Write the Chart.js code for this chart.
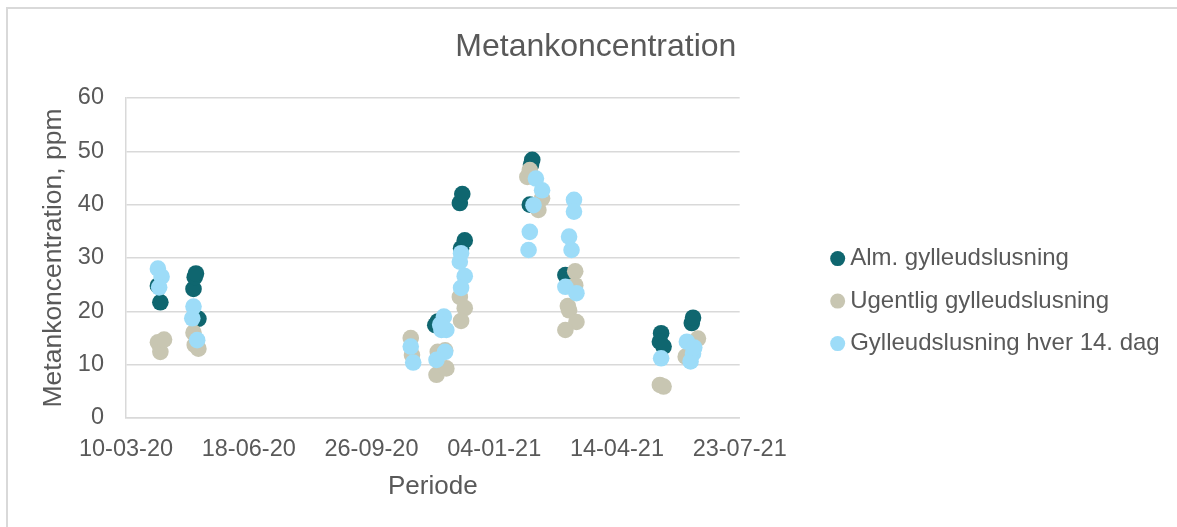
<!DOCTYPE html>
<html>
<head>
<meta charset="utf-8">
<script src="https://cdn.jsdelivr.net/npm/chart.js@4.4.1/dist/chart.umd.min.js"></script>
<style>
  html, body { margin: 0; padding: 0; background: #ffffff; overflow: hidden; }
  #wrap { position: relative; width: 1177px; height: 527px; }
  #frame { position: absolute; left: 6px; top: 7px; width: 1300px; height: 700px;
           border-left: 2px solid #d9d9d9; border-top: 2px solid #d9d9d9; pointer-events: none; box-sizing: border-box; }
  canvas { position: absolute; left: 0; top: 0; }
</style>
</head>
<body>
<div id="wrap">
  <canvas id="c" width="1177" height="527" style="width:1177px;height:527px"></canvas>
  <div id="frame"></div>
</div>
<script>
// ---- Data ----
const seriesNames = ["Alm. gylleudslusning", "Ugentlig gylleudslusning", "Gylleudslusning hver 14. dag"];

const almDates = ["2020-04-05","2020-04-07","2020-05-04","2020-05-05","2020-05-06","2020-05-08",
  "2020-11-17","2020-11-19","2020-12-07","2020-12-09","2020-12-08","2020-12-11",
  "2021-02-03","2021-02-04","2021-02-02","2021-03-03",
  "2021-05-20","2021-05-19","2021-05-22","2021-06-14","2021-06-15"];
const almValues = [24.8,21.7,24.2,26.4,27.1,18.6,
  17.4,18.1,40.3,42.0,31.8,33.3,
  47.5,48.4,40.0,26.8,
  15.9,14.3,13.4,17.8,18.8];

const ugeDates = ["2020-04-05","2020-04-07","2020-04-10","2020-05-04","2020-05-05","2020-05-08",
  "2020-10-28","2020-10-29","2020-11-19","2020-11-25","2020-11-18","2020-11-26",
  "2020-12-07","2020-12-11","2020-12-08",
  "2021-01-31","2021-02-02","2021-02-12","2021-02-09",
  "2021-03-11","2021-03-11","2021-03-05","2021-03-06","2021-03-12","2021-03-03",
  "2021-05-19","2021-05-22","2021-06-19","2021-06-09"];
const ugeValues = [14.2,12.4,14.7,16.0,13.7,13.0,
  15.0,11.8,12.4,12.7,8.1,9.3,
  22.7,20.6,18.2,
  45.2,46.5,41.2,39.0,
  27.5,24.9,21.0,20.2,18.0,16.5,
  6.2,5.9,14.9,11.5];

const hverDates = ["2020-04-05","2020-04-08","2020-04-06","2020-05-04","2020-05-03","2020-05-07",
  "2020-10-28","2020-10-30","2020-11-24","2020-11-22","2020-11-26","2020-11-21","2020-11-25","2020-11-18",
  "2020-12-08","2020-12-07","2020-12-11","2020-12-08",
  "2021-02-07","2021-02-12","2021-02-05","2021-02-02","2021-02-01",
  "2021-03-10","2021-03-10","2021-03-06","2021-03-08","2021-03-03","2021-03-12",
  "2021-05-20","2021-06-10","2021-06-15","2021-06-13","2021-06-16"];
const hverValues = [28.0,26.5,24.5,20.9,18.7,14.6,
  13.4,10.4,19.0,16.5,16.5,17.5,12.4,10.9,
  30.9,29.3,26.6,24.4,
  44.9,42.7,39.9,34.9,31.5,
  40.9,38.7,34.0,31.5,24.6,23.4,
  11.2,14.3,12.1,10.6,13.2];

const axisStartDate = "2020-03-10";
const xTickStepDays = 100;
const xTickCount = 5;            // 10-03-20 ... 23-07-21
const yTicks = [0, 10, 20, 30, 40, 50, 60];

// ---- helpers ----
function toUTC(s) { const [y, m, d] = s.split("-").map(Number); return Date.UTC(y, m - 1, d); }
const DAY = 86400000;
const base = toUTC(axisStartDate);
function dayOf(s) { return Math.round((toUTC(s) - base) / DAY); }
function fmt(dayNum) {
  const dt = new Date(base + dayNum * DAY);
  const p = n => String(n).padStart(2, "0");
  return p(dt.getUTCDate()) + "-" + p(dt.getUTCMonth() + 1) + "-" + p(dt.getUTCFullYear() % 100);
}
function pts(dates, vals) { return dates.map((d, i) => ({ x: dayOf(d), y: vals[i] })); }

const FONT = "'Liberation Sans', Arial, sans-serif";
const TXT = "#595959";
const GRID = "#d9d9d9";

// let the right-hand legend be wider than Chart.js' default cap
const legendWidthPlugin = {
  id: "legendWidth",
  beforeLayout(chart) {
    const lg = chart.legend;
    if (lg && !lg._wideP) {
      const orig = lg.update.bind(lg);
      lg.update = (maxW, maxH, margins) => orig(Math.max(maxW, 420), maxH, margins);
      lg._wideP = true;
    }
  }
};

const ctx = document.getElementById("c");
new Chart(ctx, {
  type: "scatter",
  plugins: [legendWidthPlugin],
  data: {
    datasets: [
      { label: seriesNames[0], data: pts(almDates, almValues), backgroundColor: "#0f666f", borderWidth: 0, pointRadius: 8.3, pointHoverRadius: 8.3, order: 3 },
      { label: seriesNames[1], data: pts(ugeDates, ugeValues), backgroundColor: "#c8c6b2", borderWidth: 0, pointRadius: 8.3, pointHoverRadius: 8.3, order: 2 },
      { label: seriesNames[2], data: pts(hverDates, hverValues), backgroundColor: "#9ddcf8", borderWidth: 0, pointRadius: 8.3, pointHoverRadius: 8.3, order: 1 }
    ]
  },
  options: {
    responsive: false,
    animation: false,
    devicePixelRatio: 1,
    layout: { padding: { left: 22, right: 7.3, top: 0, bottom: 23 } },
    plugins: {
      tooltip: { enabled: false },
      title: {
        display: true, text: "Metankoncentration", color: TXT,
        font: { family: FONT, size: 32, weight: "normal" },
        padding: { top: 28, bottom: 31.6 }
      },
      legend: {
        position: "right", align: "center",
        title: { display: true, text: "", font: { family: FONT, size: 1 }, padding: { top: 97, bottom: 0 } },
        labels: {
          usePointStyle: true, pointStyle: "circle",
          boxWidth: 1, boxHeight: 10.6, padding: 18.5,
          color: TXT, font: { family: FONT, size: 24 },
          sort: (a, b) => a.datasetIndex - b.datasetIndex
        }
      }
    },
    scales: {
      x: {
        type: "linear", position: "bottom",
        min: 0, max: xTickStepDays * xTickCount,
        afterBuildTicks: (axis) => { axis.ticks = Array.from({ length: xTickCount + 1 }, (_, i) => ({ value: i * xTickStepDays })); },
        ticks: { callback: (v) => fmt(v), color: TXT, font: { family: FONT, size: 23.5 }, padding: 17, maxRotation: 0, autoSkip: false },
        grid: { display: false, drawTicks: false },
        border: { display: true, color: GRID, width: 1.5 },
        title: { display: true, text: "Periode", color: TXT, font: { family: FONT, size: 26 }, padding: { top: 0, bottom: 1.6 } },
        afterFit: (axis) => { axis.height = 86; }
      },
      y: {
        type: "linear", position: "left",
        min: 0, max: 60,
        afterBuildTicks: (axis) => { axis.ticks = yTicks.map(v => ({ value: v })); },
        ticks: { color: TXT, font: { family: FONT, size: 23.5 }, padding: 22 },
        grid: { color: GRID, lineWidth: 1.5, drawTicks: false },
        border: { display: true, color: GRID, width: 1.5 },
        title: { display: true, text: "Metankoncentration, ppm", color: TXT, font: { family: FONT, size: 26.5 }, padding: { top: 16, bottom: 0 } },
        afterFit: (axis) => { axis.width = 104; }
      },
      gap: {
        type: "linear", position: "right", display: true,
        ticks: { display: false }, grid: { display: false, drawTicks: false }, border: { display: false },
        afterFit: (axis) => { axis.width = 79; }
      }
    }
  }
});
</script>
</body>
</html>
